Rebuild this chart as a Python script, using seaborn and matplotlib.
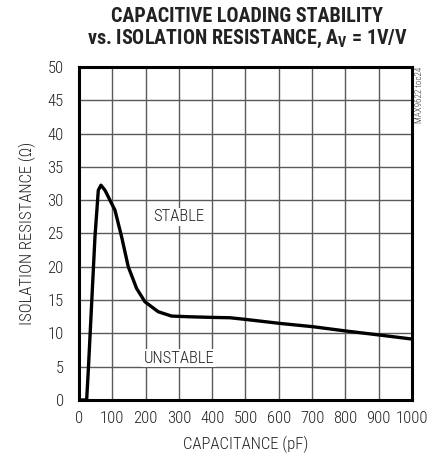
import numpy as np
import pandas as pd
import seaborn as sns
import matplotlib
matplotlib.use('Agg')
import matplotlib.pyplot as plt

# curve (capacitance in pF, isolation resistance in ohms)
capacitance = [0, 23, 28, 38, 48, 58, 66, 78, 108, 128, 148, 173, 198, 238, 278,
               328, 400, 453, 500, 603, 703, 803, 903, 1000]
resistance = [0, 0, 4.5, 14.5, 24.5, 31.5, 32.25, 31.5, 28.5, 24.5, 20, 16.75, 14.75,
              13.25, 12.6, 12.5, 12.4, 12.35, 12.1, 11.5, 11.0, 10.35, 9.75, 9.15]
x_ticks = list(range(0, 1001, 100))
y_ticks = list(range(0, 51, 5))

df = pd.DataFrame({'cap': capacitance, 'res': resistance})

sns.set_style('white')
font = 'Roboto Condensed'
plt.rcParams['font.family'] = [font, 'DejaVu Sans']
plt.rcParams['mathtext.fontset'] = 'custom'
plt.rcParams['mathtext.rm'] = font
plt.rcParams['mathtext.bf'] = font + ':bold'

fig = plt.figure(figsize=(4.3, 4.63), dpi=100)
ax = fig.add_axes([0.1837, 0.1361, 0.7744, 0.7192])

sns.lineplot(data=df, x='cap', y='res', ax=ax, color='black', linewidth=2.4,
             sort=False, estimator=None)

ax.set_xlim(0, 1000)
ax.set_ylim(0, 50)
ax.set_xticks(x_ticks)
ax.set_yticks(y_ticks)
ax.grid(True, color='#5a5a5a', linewidth=1.0)
ax.set_axisbelow(True)
ax.tick_params(axis='both', length=0, labelsize=12, colors='#222222')
ax.tick_params(axis='y', pad=11)
ax.tick_params(axis='x', pad=8)
for lbl in ax.get_xticklabels() + ax.get_yticklabels():
    lbl.set_fontweight('light')
for s in ax.spines.values():
    s.set_visible(True)
    s.set_linewidth(2.2)
    s.set_color('black')

ax.set_xlabel('CAPACITANCE (pF)', fontsize=12, fontweight='light', color='#222222', labelpad=7)
ax.set_ylabel('ISOLATION RESISTANCE (Ω)', fontsize=12, fontweight='light', color='#222222', labelpad=8)

ax.text(300, 27.5, 'STABLE', ha='center', va='center', fontsize=12, fontweight='light',
        color='#222222', bbox=dict(facecolor='white', edgecolor='none', pad=1))
ax.text(300, 6.3, 'UNSTABLE', ha='center', va='center', fontsize=12, fontweight='light',
        color='#222222', bbox=dict(facecolor='white', edgecolor='none', pad=1))

fig.text(0.575, 0.965, 'CAPACITIVE LOADING STABILITY', ha='center', va='center',
         fontsize=14.5, fontweight='bold', color='#222222')
fig.text(0.575, 0.917, r'vs. ISOLATION RESISTANCE, $\mathbf{A_V}$ = 1V/V', ha='center',
         va='center', fontsize=14.5, fontweight='bold', color='#222222')
fig.text(0.975, 0.855, 'MAX9622 toc24', rotation=90, ha='center', va='top',
         fontsize=6.5, fontweight='light', color='#333333')

fig.savefig('out.png', dpi=100)
